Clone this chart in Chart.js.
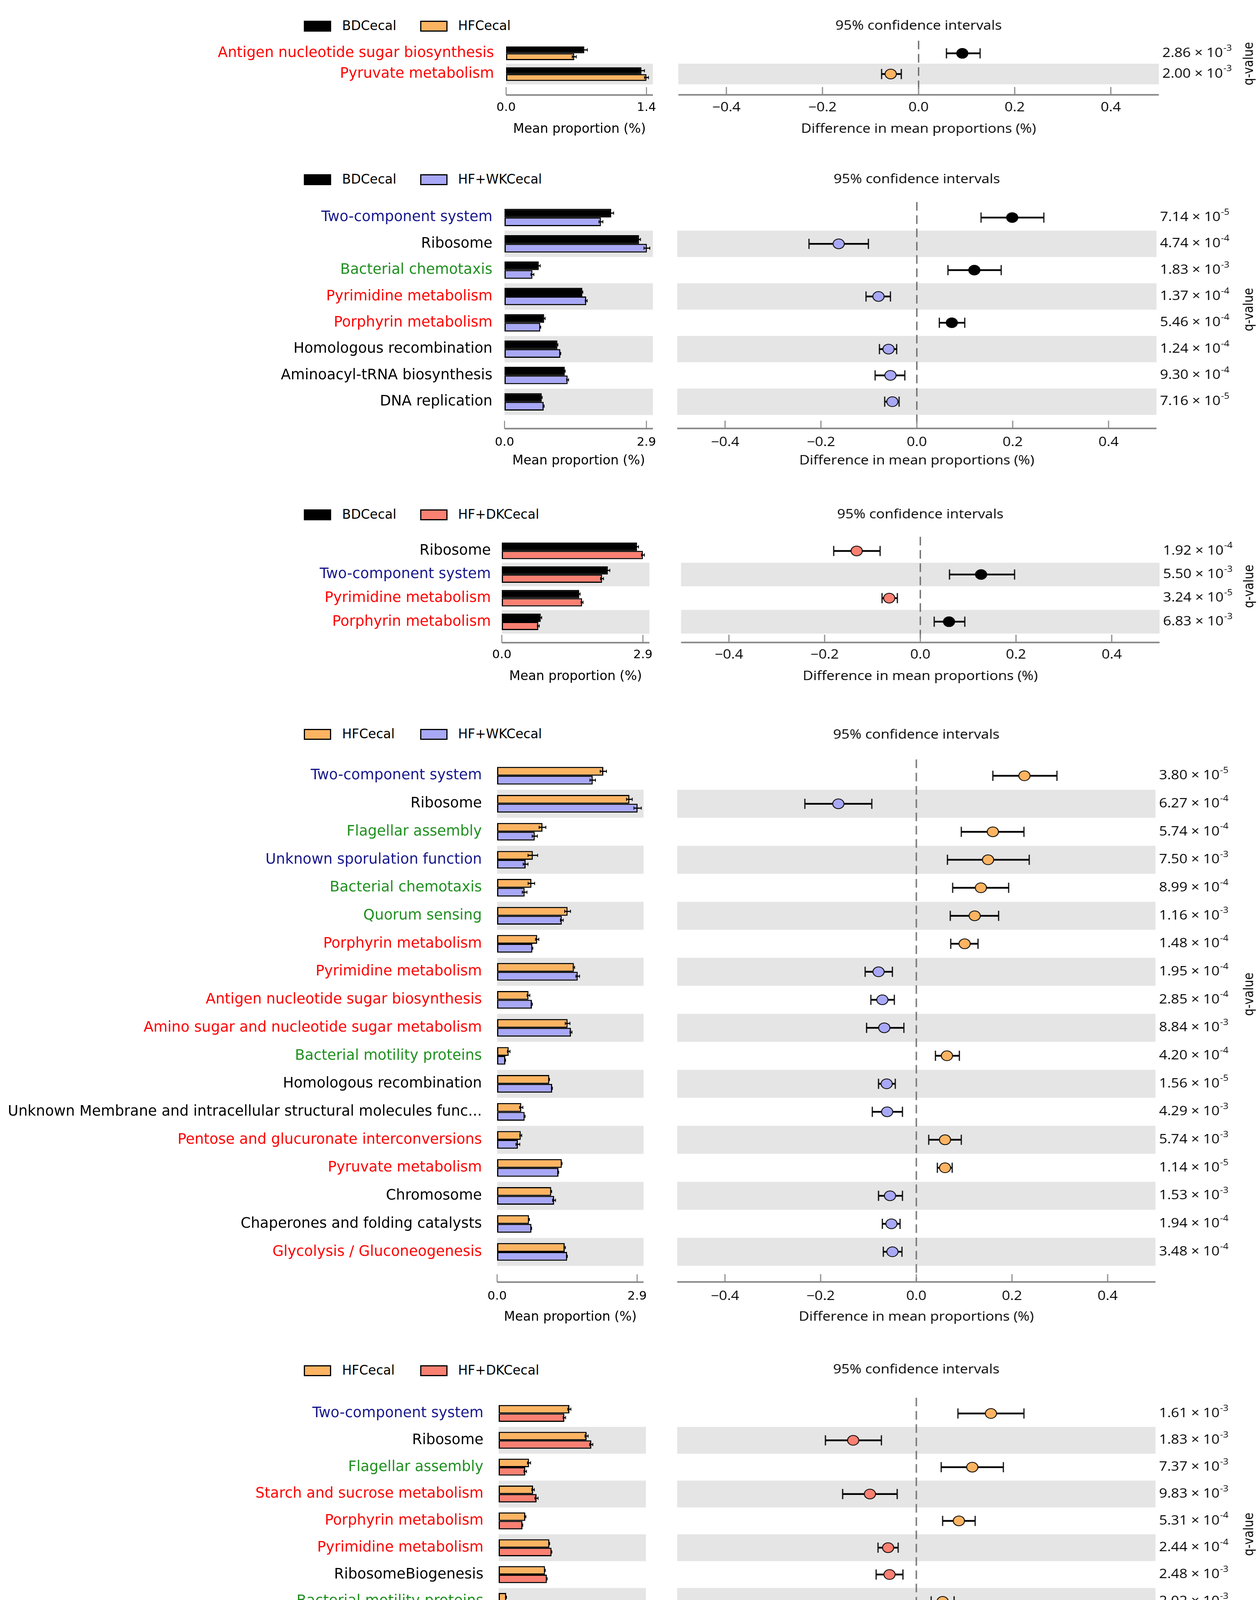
<!DOCTYPE html>
<html>
<head>
<meta charset="utf-8">
<script src="https://cdn.jsdelivr.net/npm/chart.js@4.4.1/dist/chart.umd.min.js"></script>
<style>
html,body{margin:0;padding:0;background:#fff;}
#page{position:relative;width:3224px;height:4441px;background:#fff;overflow:hidden;}
.legbox{position:absolute;width:70px;height:28px;border:3px solid #000;box-sizing:border-box;}
.legtxt{position:absolute;font-family:"DejaVu Sans";font-size:33px;line-height:40px;color:#000;white-space:nowrap;}
</style>
</head>
<body>
<div id="page"></div>
<script>
// ================= DATA =================
const ciTickValues = [-0.4, -0.2, 0.0, 0.2, 0.4];

// Panel 1: BDCecal vs HFCecal
const p1Groups = ["BDCecal", "HFCecal"];
const p1Features = ["Antigen nucleotide sugar biosynthesis", "Pyruvate metabolism"];
const p1Classes = ["Metabolism", "Metabolism"];
const p1MeanA = [0.78, 1.35];
const p1MeanB = [0.68, 1.40];
const p1ErrA = [0.03, 0.03];
const p1ErrB = [0.02, 0.02];
const p1Diff = [0.091, -0.058];
const p1Low = [0.058, -0.077];
const p1High = [0.128, -0.036];
const p1Q = [2.86e-3, 2.00e-3];
const p1MaxTick = 1.4;

// Panel 2: BDCecal vs HF+WKCecal
const p2Groups = ["BDCecal", "HF+WKCecal"];
const p2Features = ["Two-component system", "Ribosome", "Bacterial chemotaxis", "Pyrimidine metabolism",
  "Porphyrin metabolism", "Homologous recombination", "Aminoacyl-tRNA biosynthesis", "DNA replication"];
const p2Classes = ["Environmental", "Genetic", "Cellular", "Metabolism", "Metabolism", "Genetic", "Genetic", "Genetic"];
const p2MeanA = [2.18, 2.75, 0.70, 1.59, 0.81, 1.08, 1.23, 0.76];
const p2MeanB = [1.97, 2.91, 0.57, 1.67, 0.73, 1.14, 1.29, 0.80];
const p2ErrA = [0.05, 0.03, 0.03, 0.01, 0.02, 0.01, 0.01, 0.01];
const p2ErrB = [0.04, 0.06, 0.03, 0.02, 0.01, 0.01, 0.02, 0.01];
const p2Diff = [0.199, -0.163, 0.120, -0.080, 0.073, -0.059, -0.055, -0.051];
const p2Low = [0.134, -0.225, 0.065, -0.106, 0.047, -0.078, -0.087, -0.067];
const p2High = [0.265, -0.101, 0.176, -0.055, 0.100, -0.042, -0.025, -0.037];
const p2Q = [7.14e-5, 4.74e-4, 1.83e-3, 1.37e-4, 5.46e-4, 1.24e-4, 9.30e-4, 7.16e-5];
const p2MaxTick = 2.9;

// Panel 3: BDCecal vs HF+DKCecal
const p3Groups = ["BDCecal", "HF+DKCecal"];
const p3Features = ["Ribosome", "Two-component system", "Pyrimidine metabolism", "Porphyrin metabolism"];
const p3Classes = ["Genetic", "Environmental", "Metabolism", "Metabolism"];
const p3MeanA = [2.78, 2.18, 1.59, 0.80];
const p3MeanB = [2.90, 2.06, 1.65, 0.75];
const p3ErrA = [0.03, 0.04, 0.02, 0.02];
const p3ErrB = [0.03, 0.03, 0.02, 0.02];
const p3Diff = [-0.133, 0.127, -0.065, 0.060];
const p3Low = [-0.181, 0.061, -0.080, 0.029];
const p3High = [-0.084, 0.197, -0.048, 0.093];
const p3Q = [1.92e-4, 5.50e-3, 3.24e-5, 6.83e-3];
const p3MaxTick = 2.9;

// Panel 4: HFCecal vs HF+WKCecal
const p4Groups = ["HFCecal", "HF+WKCecal"];
const p4Features = ["Two-component system", "Ribosome", "Flagellar assembly", "Unknown sporulation function",
  "Bacterial chemotaxis", "Quorum sensing", "Porphyrin metabolism", "Pyrimidine metabolism",
  "Antigen nucleotide sugar biosynthesis", "Amino sugar and nucleotide sugar metabolism",
  "Bacterial motility proteins", "Homologous recombination",
  "Unknown Membrane and intracellular structural molecules func...",
  "Pentose and glucuronate interconversions", "Pyruvate metabolism", "Chromosome",
  "Chaperones and folding catalysts", "Glycolysis / Gluconeogenesis"];
const p4Classes = ["Environmental", "Genetic", "Cellular", "Environmental", "Cellular", "Cellular", "Metabolism",
  "Metabolism", "Metabolism", "Metabolism", "Cellular", "Genetic", "Genetic", "Metabolism", "Metabolism",
  "Genetic", "Genetic", "Metabolism"];
const p4MeanA = [2.20, 2.74, 0.94, 0.74, 0.71, 1.46, 0.83, 1.59, 0.65, 1.46, 0.24, 1.08, 0.50, 0.49, 1.34, 1.12, 0.66, 1.40];
const p4MeanB = [1.98, 2.91, 0.78, 0.59, 0.57, 1.34, 0.73, 1.67, 0.72, 1.53, 0.17, 1.14, 0.57, 0.43, 1.27, 1.18, 0.71, 1.45];
const p4ErrA = [0.065, 0.06, 0.07, 0.10, 0.068, 0.061, 0.034, 0.015, 0.028, 0.049, 0.027, 0.005, 0.034, 0.02, 0.005, 0.01, 0.01, 0.015];
const p4ErrB = [0.057, 0.077, 0.054, 0.05, 0.049, 0.03, 0.01, 0.038, 0.01, 0.02, 0.005, 0.005, 0.01, 0.04, 0.005, 0.03, 0.005, 0.005];
const p4Diff = [0.226, -0.163, 0.160, 0.150, 0.135, 0.122, 0.101, -0.079, -0.071, -0.067, 0.064, -0.062, -0.061, 0.060, 0.060, -0.055, -0.052, -0.050];
const p4Low = [0.160, -0.233, 0.094, 0.065, 0.076, 0.071, 0.072, -0.107, -0.095, -0.104, 0.040, -0.079, -0.092, 0.026, 0.044, -0.079, -0.071, -0.069];
const p4High = [0.294, -0.093, 0.225, 0.236, 0.193, 0.172, 0.129, -0.050, -0.046, -0.026, 0.090, -0.044, -0.029, 0.094, 0.075, -0.029, -0.034, -0.030];
const p4Q = [3.80e-5, 6.27e-4, 5.74e-4, 7.50e-3, 8.99e-4, 1.16e-3, 1.48e-4, 1.95e-4, 2.85e-4, 8.84e-3, 4.20e-4, 1.56e-5, 4.29e-3, 5.74e-3, 1.14e-5, 1.53e-3, 1.94e-4, 3.48e-4];
const p4MaxTick = 2.9;

// Panel 5: HFCecal vs HF+DKCecal
const p5Groups = ["HFCecal", "HF+DKCecal"];
const p5Features = ["Two-component system", "Ribosome", "Flagellar assembly", "Starch and sucrose metabolism",
  "Porphyrin metabolism", "Pyrimidine metabolism", "RibosomeBiogenesis", "Bacterial motility proteins",
  "Pyruvate metabolism", "Unknown Function"];
const p5Classes = ["Environmental", "Genetic", "Cellular", "Metabolism", "Metabolism", "Metabolism", "Genetic",
  "Cellular", "Metabolism", "Unclassified"];
const p5MeanA = [2.26, 2.81, 0.97, 1.10, 0.85, 1.62, 1.48, 0.24, 1.36, 4.50];
const p5MeanB = [2.10, 2.96, 0.85, 1.21, 0.76, 1.69, 1.54, 0.18, 1.31, 4.45];
const p5ErrA = [0.05, 0.05, 0.05, 0.04, 0.02, 0.01, 0.01, 0.01, 0.01, 0.01];
const p5ErrB = [0.04, 0.05, 0.04, 0.05, 0.01, 0.01, 0.01, 0.005, 0.01, 0.01];
const p5Diff = [0.156, -0.132, 0.117, -0.097, 0.089, -0.059, -0.056, 0.055, 0.053, 0.051];
const p5Low = [0.087, -0.190, 0.052, -0.154, 0.055, -0.080, -0.084, 0.031, 0.035, 0.032];
const p5High = [0.225, -0.073, 0.182, -0.040, 0.123, -0.038, -0.028, 0.079, 0.071, 0.070];
const p5Q = [1.61e-3, 1.83e-3, 7.37e-3, 9.83e-3, 5.31e-4, 2.44e-4, 2.48e-3, 2.02e-3, 2.42e-4, 4.73e-4];
const p5MaxTick = 4.5;

// ================= STYLE / LAYOUT =================
const groupColor = {"BDCecal": "#000000", "HFCecal": "#fdb462", "HF+WKCecal": "#a8a8f7", "HF+DKCecal": "#fa8072"};
const classColor = {Metabolism: "#ff0000", Environmental: "#17178c", Cellular: "#1f8f1f", Genetic: "#000000", Unclassified: "#800080"};
const DEJAVU = '"DejaVu Sans", sans-serif';
const OPEN = '"Open Sans", sans-serif';
const S = 1.15;          // horizontal stretch of the CI panels
const PAGE_W = 3224;
const CI_FONT = 32;
const BAR_PAD_R = 48;

const panels = [
  {groups: p1Groups, features: p1Features, classes: p1Classes, meanA: p1MeanA, meanB: p1MeanB, errA: p1ErrA, errB: p1ErrB, diff: p1Diff, low: p1Low, high: p1High, q: p1Q, maxTick: p1MaxTick},
  {groups: p2Groups, features: p2Features, classes: p2Classes, meanA: p2MeanA, meanB: p2MeanB, errA: p2ErrA, errB: p2ErrB, diff: p2Diff, low: p2Low, high: p2High, q: p2Q, maxTick: p2MaxTick},
  {groups: p3Groups, features: p3Features, classes: p3Classes, meanA: p3MeanA, meanB: p3MeanB, errA: p3ErrA, errB: p3ErrB, diff: p3Diff, low: p3Low, high: p3High, q: p3Q, maxTick: p3MaxTick},
  {groups: p4Groups, features: p4Features, classes: p4Classes, meanA: p4MeanA, meanB: p4MeanB, errA: p4ErrA, errB: p4ErrB, diff: p4Diff, low: p4Low, high: p4High, q: p4Q, maxTick: p4MaxTick},
  {groups: p5Groups, features: p5Features, classes: p5Classes, meanA: p5MeanA, meanB: p5MeanB, errA: p5ErrA, errB: p5ErrB, diff: p5Diff, low: p5Low, high: p5High, q: p5Q, maxTick: p5MaxTick}
];

const layouts = [
  {legendY: 67,   bandTop: 110,  pitch: 53,    axisY: 243,  tickY: 276,  xTitleY: 331,  barX0: 1296, barRight: 1672, labelGap: 31, catPct: 0.66, ciL: 1737, ciR: 2967, ciTitleY: 67,   qLabelY: 0},
  {legendY: 460,  bandTop: 523,  pitch: 67.4,  axisY: 1097, tickY: 1133, xTitleY: 1180, barX0: 1292, barRight: 1672, labelGap: 31, catPct: 0.66, ciL: 1734, ciR: 2962, ciTitleY: 460,  qLabelY: 0},
  {legendY: 1318, bandTop: 1380, pitch: 60.5,  axisY: 1645, tickY: 1677, xTitleY: 1732, barX0: 1285, barRight: 1663, labelGap: 28, catPct: 0.70, ciL: 1744, ciR: 2969, ciTitleY: 1318, qLabelY: 0},
  {legendY: 1880, bandTop: 1950, pitch: 71.7,  axisY: 3282, tickY: 3319, xTitleY: 3372, barX0: 1273, barRight: 1648, labelGap: 39, catPct: 0.63, ciL: 1734, ciR: 2959, ciTitleY: 1882, qLabelY: -50},
  {legendY: 3509, bandTop: 3584, pitch: 68.75, axisY: 4307, tickY: 4343, xTitleY: 4391, barX0: 1277, barRight: 1654, labelGap: 39, catPct: 0.63, ciL: 1734, ciR: 2959, ciTitleY: 3507, qLabelY: 0}
];

Chart.defaults.color = '#000';
Chart.defaults.font.family = DEJAVU;

const page = document.getElementById('page');

function noEdgePadding(s) {
  s.paddingTop = 0; s.paddingBottom = 0; s.paddingLeft = 0; s.paddingRight = 0;
}

function drawBands(chart, n) {
  const {ctx, chartArea: a, scales: {y}} = chart;
  const step = (a.bottom - a.top) / n;
  ctx.save();
  ctx.fillStyle = '#e5e5e5';
  for (let i = 1; i < n; i += 2) {
    ctx.fillRect(a.left, y.getPixelForValue(i) - step / 2, a.right - a.left, step);
  }
  ctx.restore();
}

function drawAxis(chart, gap) {
  const {ctx, chartArea: a, scales: {x}} = chart;
  const ay = a.bottom + gap;
  ctx.save();
  ctx.strokeStyle = '#878787';
  ctx.lineWidth = 4;
  ctx.beginPath(); ctx.moveTo(a.left, ay); ctx.lineTo(a.right, ay); ctx.stroke();
  ctx.lineWidth = 2.5;
  x.ticks.forEach(t => {
    const px = x.getPixelForValue(t.value);
    ctx.beginPath(); ctx.moveTo(px, ay); ctx.lineTo(px, ay - 20); ctx.stroke();
  });
  ctx.restore();
}

function addLegend(p, L) {
  const xs = [[778, 876], [1076, 1173]];
  p.groups.forEach((g, k) => {
    const b = document.createElement('div');
    b.className = 'legbox';
    b.style.left = xs[k][0] + 'px';
    b.style.top = (L.legendY - 14) + 'px';
    b.style.background = groupColor[g];
    page.appendChild(b);
    const t = document.createElement('div');
    t.className = 'legtxt';
    t.style.left = xs[k][1] + 'px';
    t.style.top = (L.legendY - 21) + 'px';
    t.textContent = g;
    page.appendChild(t);
  });
}

function makeBar(p, L) {
  const n = p.features.length;
  const bottom = L.bandTop + L.pitch * n;
  const gap = L.axisY - bottom;
  const hx = L.xTitleY - bottom + 0.6 * 33;
  const H = Math.round(bottom - L.bandTop + hx);
  const cv = document.createElement('canvas');
  cv.width = L.barRight + BAR_PAD_R; cv.height = H;
  cv.style.position = 'absolute'; cv.style.left = '0px'; cv.style.top = L.bandTop + 'px';
  page.appendChild(cv);
  const cA = groupColor[p.groups[0]], cB = groupColor[p.groups[1]];
  const extras = {
    id: 'barExtras',
    beforeDatasetsDraw(chart) { drawBands(chart, n); },
    afterDatasetsDraw(chart) {
      const {ctx, scales: {x}} = chart;
      ctx.save();
      ctx.strokeStyle = '#000';
      [[p.meanA, p.errA], [p.meanB, p.errB]].forEach(([m, e], d) => {
        chart.getDatasetMeta(d).data.forEach((el, i) => {
          const x1 = x.getPixelForValue(m[i] - e[i]);
          const x2 = x.getPixelForValue(m[i] + e[i]);
          ctx.lineWidth = 3;
          ctx.beginPath(); ctx.moveTo(x1, el.y); ctx.lineTo(x2, el.y); ctx.stroke();
          ctx.lineWidth = 2;
          ctx.beginPath();
          ctx.moveTo(x1, el.y - 4); ctx.lineTo(x1, el.y + 4);
          ctx.moveTo(x2, el.y - 4); ctx.lineTo(x2, el.y + 4);
          ctx.stroke();
        });
      });
      ctx.restore();
    },
    afterDraw(chart) { drawAxis(chart, gap); }
  };
  new Chart(cv, {
    type: 'bar',
    data: {
      labels: p.features,
      datasets: [
        {label: p.groups[0], data: p.meanA, backgroundColor: cA, borderColor: '#000', borderWidth: 3, borderSkipped: false, categoryPercentage: L.catPct, barPercentage: 1},
        {label: p.groups[1], data: p.meanB, backgroundColor: cB, borderColor: '#000', borderWidth: 3, borderSkipped: false, categoryPercentage: L.catPct, barPercentage: 1}
      ]
    },
    options: {
      indexAxis: 'y', responsive: false, animation: false, devicePixelRatio: 1, events: [],
      layout: {padding: {left: 0, top: 0, bottom: 0, right: BAR_PAD_R}},
      plugins: {legend: {display: false}, tooltip: {enabled: false}, title: {display: false}},
      scales: {
        y: {
          type: 'category', offset: true,
          grid: {display: false, drawTicks: false}, border: {display: false},
          ticks: {autoSkip: false, padding: L.labelGap, color: (c) => classColor[p.classes[c.index]], font: {family: DEJAVU, size: 37}},
          afterFit: (s) => { s.width = L.barX0; noEdgePadding(s); }
        },
        x: {
          type: 'linear', min: 0, max: p.maxTick * 1.046, bounds: 'data',
          grid: {display: false, drawTicks: false}, border: {display: false},
          afterBuildTicks: (s) => { s.ticks = [{value: 0}, {value: p.maxTick}]; },
          ticks: {autoSkip: false, maxRotation: 0, minRotation: 0, padding: L.tickY - bottom - 0.6 * 31,
                  callback: (v) => Number(v).toFixed(1), font: {family: DEJAVU, size: 31}},
          title: {display: true, text: 'Mean proportion (%)', font: {family: DEJAVU, size: 33}, padding: 0},
          afterFit: (s) => { s.height = hx; noEdgePadding(s); }
        }
      }
    },
    plugins: [extras]
  });
}

function makeCI(p, L) {
  const n = p.features.length;
  const bottom = L.bandTop + L.pitch * n;
  const gap = L.axisY - bottom;
  const rightSpace = PAGE_W - L.ciR;
  const padX = rightSpace / S;
  const CL = L.ciL - rightSpace;
  const Wc = Math.round((PAGE_W - CL) / S);
  const top = L.ciTitleY - 0.6 * CI_FONT;
  const hx = L.xTitleY - bottom + 0.6 * CI_FONT;
  const H = Math.round(bottom + hx - top);
  const wrap = document.createElement('div');
  wrap.style.cssText = `position:absolute;left:${CL}px;top:${top}px;width:${Wc}px;height:${H}px;transform:scaleX(${S});transform-origin:0 0;`;
  const cv = document.createElement('canvas');
  cv.width = Wc; cv.height = H;
  wrap.appendChild(cv);
  page.appendChild(wrap);
  const cA = groupColor[p.groups[0]], cB = groupColor[p.groups[1]];
  const extras = {
    id: 'ciExtras',
    beforeDatasetsDraw(chart) {
      drawBands(chart, n);
      const {ctx, chartArea: a, scales: {x, y}} = chart;
      const x0 = x.getPixelForValue(0);
      ctx.save();
      ctx.strokeStyle = '#6e6e6e'; ctx.lineWidth = 3; ctx.setLineDash([22, 12]);
      ctx.beginPath(); ctx.moveTo(x0, a.top - 6); ctx.lineTo(x0, a.bottom + gap); ctx.stroke();
      ctx.setLineDash([]);
      ctx.strokeStyle = '#000';
      p.diff.forEach((d, i) => {
        const yy = y.getPixelForValue(i);
        const x1 = x.getPixelForValue(p.low[i]);
        const x2 = x.getPixelForValue(p.high[i]);
        ctx.lineWidth = 4.5;
        ctx.beginPath(); ctx.moveTo(x1, yy); ctx.lineTo(x2, yy); ctx.stroke();
        ctx.lineWidth = 2.5;
        ctx.beginPath();
        ctx.moveTo(x1, yy - 13); ctx.lineTo(x1, yy + 13);
        ctx.moveTo(x2, yy - 13); ctx.lineTo(x2, yy + 13);
        ctx.stroke();
      });
      ctx.restore();
    },
    afterDraw(chart) {
      drawAxis(chart, gap);
      const {ctx, chartArea: a, scales: {y}} = chart;
      ctx.save();
      ctx.fillStyle = '#000';
      ctx.textBaseline = 'middle';
      ctx.textAlign = 'left';
      const xq = a.right + 9 / S;
      p.q.forEach((q, i) => {
        const e = Math.floor(Math.log10(q) + 1e-9);
        const m = (q / Math.pow(10, e)).toFixed(2);
        const yy = y.getPixelForValue(i);
        const base = m + ' \u00d7 10';
        ctx.font = CI_FONT + 'px ' + OPEN;
        ctx.fillText(base, xq, yy);
        const w = ctx.measureText(base).width;
        ctx.font = '21px ' + OPEN;
        ctx.fillText(String(e), xq + w + 1, yy - 13);
      });
      ctx.translate((3200 - CL) / S, (a.top + a.bottom) / 2 + L.qLabelY);
      ctx.rotate(-Math.PI / 2);
      ctx.textAlign = 'center';
      ctx.font = '30px ' + DEJAVU;
      ctx.fillText('q-value', 0, 0);
      ctx.restore();
    }
  };
  new Chart(cv, {
    type: 'scatter',
    data: {
      datasets: [{
        label: 'difference',
        data: p.diff.map((d, i) => ({x: d, y: p.features[i]})),
        pointRadius: 12.5, pointHoverRadius: 12.5,
        pointBackgroundColor: p.diff.map(d => d > 0 ? cA : cB),
        pointBorderColor: '#000', pointBorderWidth: 2, showLine: false
      }]
    },
    options: {
      responsive: false, animation: false, devicePixelRatio: 1, events: [],
      layout: {padding: {left: padX, right: padX, top: 0, bottom: 0}},
      plugins: {
        legend: {display: false}, tooltip: {enabled: false},
        title: {display: true, text: '95% confidence intervals', color: '#000',
                font: {family: OPEN, size: CI_FONT, weight: 'normal'},
                padding: {top: 0, bottom: L.bandTop - L.ciTitleY - 0.6 * CI_FONT}}
      },
      scales: {
        x: {
          type: 'linear', min: -0.5, max: 0.5, bounds: 'data',
          grid: {display: false, drawTicks: false}, border: {display: false},
          afterBuildTicks: (s) => { s.ticks = ciTickValues.map(v => ({value: v})); },
          ticks: {autoSkip: false, maxRotation: 0, minRotation: 0, padding: L.tickY - bottom - 0.6 * CI_FONT,
                  font: {family: OPEN, size: CI_FONT},
                  callback: (v) => (v < -1e-9 ? '\u2212' : '') + Math.abs(v).toFixed(1)},
          title: {display: true, text: 'Difference in mean proportions (%)', font: {family: OPEN, size: CI_FONT}, padding: 0},
          afterFit: (s) => { s.height = hx; noEdgePadding(s); }
        },
        y: {type: 'category', labels: p.features, offset: true, display: false}
      }
    },
    plugins: [extras]
  });
}

panels.forEach((p, k) => {
  const L = layouts[k];
  addLegend(p, L);
  makeBar(p, L);
  makeCI(p, L);
});
</script>
</body>
</html>
